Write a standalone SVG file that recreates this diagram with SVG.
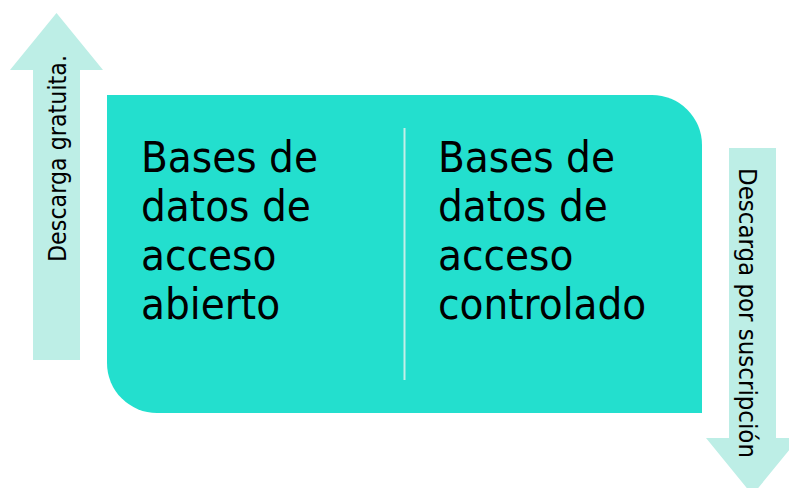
<svg xmlns="http://www.w3.org/2000/svg" width="789" height="488" viewBox="0 0 789 488">
<style>
.arrow{fill:#bdeee6}
.box{fill:#23dfce}
.main{font-family:"DejaVu Sans Condensed","DejaVu Sans",sans-serif;font-stretch:condensed;font-size:43.5px;fill:#000}
.lbl{font-family:"DejaVu Sans Condensed","DejaVu Sans",sans-serif;font-stretch:condensed;font-size:25px;fill:#000;text-anchor:middle}
</style>
<rect width="789" height="488" fill="#ffffff"/>
<g id="connectors">
<g id="arrow-up">
<polygon class="arrow" points="33,360 33,70 10,70 56.5,13 103,70 80,70 80,360"/>
<text class="lbl" transform="translate(66,158.5) rotate(-90)" textLength="207" lengthAdjust="spacingAndGlyphs">Descarga gratuita.</text>
</g>
<g id="arrow-down">
<polygon class="arrow" points="729,148 776,148 776,438 799,438 752.5,495 706,438 729,438"/>
<text class="lbl" transform="translate(739,313) rotate(90)" textLength="290" lengthAdjust="spacingAndGlyphs">Descarga por suscripción</text>
</g>
</g>
<g id="panel">
<path class="box" d="M107,95 H652 A50,50 0 0 1 702,145 V413 H157 A50,50 0 0 1 107,363 Z"/>
<line x1="404.5" y1="128" x2="404.5" y2="380" stroke="#c2efe8" stroke-width="2"/>
</g>
<g id="node-open">
<text class="main" x="141"><tspan x="141" y="172">Bases de</tspan><tspan x="141" y="221">datos de</tspan><tspan x="141" y="270">acceso</tspan><tspan x="141" y="319">abierto</tspan></text>
</g>
<g id="node-controlled">
<text class="main" x="438"><tspan x="438" y="172">Bases de</tspan><tspan x="438" y="221">datos de</tspan><tspan x="438" y="270">acceso</tspan><tspan x="438" y="319">controlado</tspan></text>
</g>
</svg>
